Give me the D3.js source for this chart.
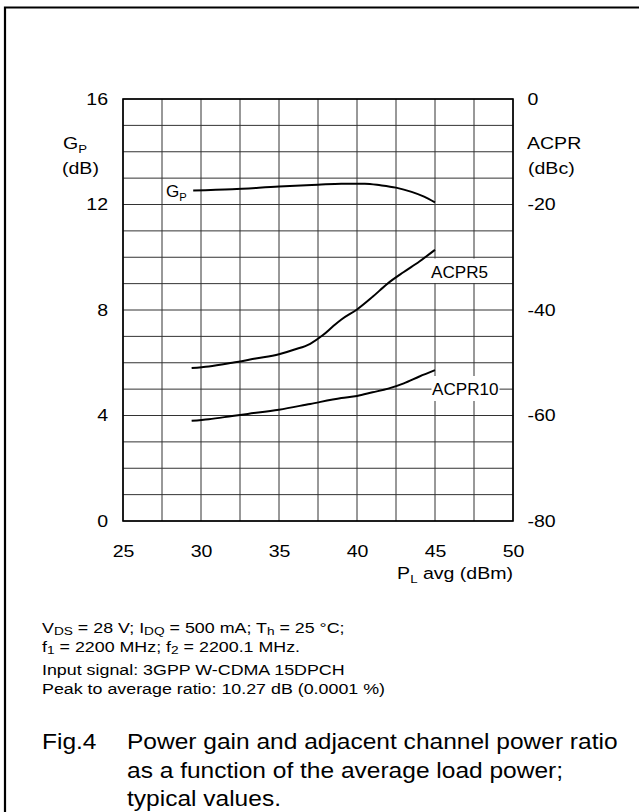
<!DOCTYPE html>
<html>
<head>
<meta charset="utf-8">
<script src="https://cdn.jsdelivr.net/npm/d3@7"></script>
<style>
  html, body { margin: 0; padding: 0; background: #fff; }
  svg { display: block; font-family: "Liberation Sans", Arial, Helvetica, sans-serif; }
</style>
</head>
<body>
<div id="chart"></div>
<script>
// Axis ticks
const xTicks = [25, 30, 35, 40, 45, 50];
const gpTicks = [0, 4, 8, 12, 16];
const acprTicks = [-80, -60, -40, -20, 0];

// Power gain Gp (dB) vs PL avg (dBm)
const gpData = [
  [29.5, 12.53], [32, 12.58], [35, 12.68], [37.5, 12.75], [39, 12.79],
  [40.5, 12.79], [41.5, 12.73], [42.5, 12.64], [43.5, 12.48], [44.3, 12.3], [45, 12.08]
];

// ACPR at 5 MHz offset (dBc)
const acpr5Data = [
  [29.4, -51], [30.5, -50.7], [32, -50], [33.5, -49.2], [35, -48.4], [36, -47.5],
  [37, -46.4], [37.8, -44.8], [38.5, -43], [39, -41.8], [40, -39.9], [41, -37.5],
  [42, -34.9], [43, -32.8], [44, -30.8], [45, -28.6]
];

// ACPR at 10 MHz offset (dBc)
const acpr10Data = [
  [29.4, -61], [30.5, -60.7], [32, -60.1], [33, -59.7], [35, -58.9], [37, -57.8],
  [39, -56.7], [40, -56.3], [41, -55.6], [42, -54.9], [43, -53.9], [44, -52.6], [45, -51.4]
];

const W = 639, H = 812;
const plot = { left: 123, right: 513, top: 99, bottom: 521 };
// the scanned lettering is a bit wider than Liberation Sans
const SX = 1.15;

const svg = d3.select('#chart').append('svg')
  .attr('width', W)
  .attr('height', H);

// Outer frame (only top and left edges show)
svg.append('path')
  .attr('d', `M5,${H} V7.5 H${W}`)
  .attr('fill', 'none')
  .attr('stroke', '#000')
  .attr('stroke-width', 2.2);

const x = d3.scaleLinear().domain([25, 50]).range([plot.left, plot.right]);
const yGp = d3.scaleLinear().domain([0, 16]).range([plot.bottom, plot.top]);
const yAcpr = d3.scaleLinear().domain([-80, 0]).range([plot.bottom, plot.top]);

// Text helper: horizontally stretched text placed at (x, y)
function label(x0, y0, size, sx, anchor) {
  return svg.append('text')
    .attr('transform', `translate(${x0},${y0}) scale(${sx},1)`)
    .attr('font-size', size)
    .attr('text-anchor', anchor || 'start')
    .attr('fill', '#000');
}
// main text followed by a subscript
function sub(el, main, s, subSize) {
  el.append('tspan').text(main);
  el.append('tspan').attr('font-size', subSize).attr('dy', 4).text(s);
  return el;
}

// Grid
const grid = svg.append('g').attr('stroke', '#333').attr('stroke-width', 1);
grid.selectAll('line.v')
  .data(d3.range(25, 50.01, 2.5))
  .join('line')
  .attr('x1', d => x(d)).attr('x2', d => x(d))
  .attr('y1', plot.top).attr('y2', plot.bottom);
grid.selectAll('line.h')
  .data(d3.range(0, 16.01, 1))
  .join('line')
  .attr('x1', plot.left).attr('x2', plot.right)
  .attr('y1', d => yGp(d)).attr('y2', d => yGp(d));

svg.append('rect')
  .attr('x', plot.left).attr('y', plot.top)
  .attr('width', plot.right - plot.left).attr('height', plot.bottom - plot.top)
  .attr('fill', 'none').attr('stroke', '#000').attr('stroke-width', 1.6);

// Axes (tick labels only, the grid stands in for ticks)
const fs = 17;
const leftAxis = svg.append('g')
  .attr('transform', `translate(108,0)`)
  .call(d3.axisLeft(yGp).tickValues(gpTicks).tickSize(0).tickPadding(0));
const rightAxis = svg.append('g')
  .attr('transform', `translate(527.5,0)`)
  .call(d3.axisRight(yAcpr).tickValues(acprTicks).tickSize(0).tickPadding(0)
    .tickFormat(d => d));
const bottomAxis = svg.append('g')
  .attr('transform', `translate(0,${plot.bottom + 30})`)
  .call(d3.axisBottom(x).tickValues(xTicks).tickSize(0).tickPadding(0));
bottomAxis.selectAll('text').attr('dy', '0.35em').attr('y', 0);
[leftAxis, rightAxis, bottomAxis].forEach(a => {
  a.select('.domain').remove();
  a.selectAll('text')
    .attr('font-size', fs)
    .attr('font-family', '"Liberation Sans", Arial, sans-serif')
    .attr('fill', '#000')
    .attr('transform', `scale(${SX},1)`);
});

// Axis titles
sub(label(63, 149, fs, SX), 'G', 'P', 11.5);
label(62, 174, fs, SX).text('(dB)');
label(527, 149, fs, SX).text('ACPR');
label(528, 174, fs, SX).text('(dBc)');
const xTitle = label(plot.right, 579, fs, SX, 'end');
xTitle.append('tspan').text('P');
xTitle.append('tspan').attr('font-size', 11.5).attr('dy', 4).text('L');
xTitle.append('tspan').attr('dy', -4).text(' avg (dBm)');

// Curves
const gpLine = d3.line().x(d => x(d[0])).y(d => yGp(d[1])).curve(d3.curveMonotoneX);
const acprLine = d3.line().x(d => x(d[0])).y(d => yAcpr(d[1])).curve(d3.curveMonotoneX);

// white patches that break the grid behind the curve labels
svg.append('rect').attr('x', 429).attr('y', 258.5).attr('width', 63).attr('height', 24.5).attr('fill', '#fff');
svg.append('rect').attr('x', 431.5).attr('y', 376).attr('width', 68).attr('height', 25).attr('fill', '#fff');

const curves = svg.append('g').attr('fill', 'none').attr('stroke', '#000')
  .attr('stroke-width', 2).attr('stroke-linejoin', 'round');
curves.append('path').attr('d', gpLine(gpData));
curves.append('path').attr('d', acprLine(acpr5Data));
curves.append('path').attr('d', acprLine(acpr10Data));

// Curve labels
sub(label(166, 197, 16, 1.07), 'G', 'P', 10.5);
label(431, 277.5, 16, 1.07).text('ACPR5');
label(432, 395, 16, 1.07).text('ACPR10');

// Measurement conditions
const ns = 15, nsx = 1.19, nsub = 11.5, sdy = 2;
const n1 = label(42, 633, ns, nsx);
n1.append('tspan').text('V');
n1.append('tspan').attr('font-size', nsub).attr('dy', sdy).text('DS');
n1.append('tspan').attr('dy', -sdy).text(' = 28 V; I');
n1.append('tspan').attr('font-size', nsub).attr('dy', sdy).text('DQ');
n1.append('tspan').attr('dy', -sdy).text(' = 500 mA; T');
n1.append('tspan').attr('font-size', nsub).attr('dy', sdy).text('h');
n1.append('tspan').attr('dy', -sdy).text(' = 25 \u00B0C;');
const n2 = label(42, 652, ns, nsx);
n2.append('tspan').text('f');
n2.append('tspan').attr('font-size', nsub).attr('dy', sdy).text('1');
n2.append('tspan').attr('dy', -sdy).text(' = 2200 MHz; f');
n2.append('tspan').attr('font-size', nsub).attr('dy', sdy).text('2');
n2.append('tspan').attr('dy', -sdy).text(' = 2200.1 MHz.');
label(42, 675, ns, nsx).text('Input signal: 3GPP W-CDMA 15DPCH');
label(42, 694, ns, nsx).text('Peak to average ratio: 10.27 dB (0.0001 %)');

// Figure caption
const cs = 22, csx = 1.115;
label(42, 749, cs, csx).text('Fig.4');
label(127, 749, cs, csx).text('Power gain and adjacent channel power ratio');
label(127, 778, cs, csx).text('as a function of the average load power;');
label(127, 806, cs, csx).text('typical values.');
</script>
</body>
</html>
